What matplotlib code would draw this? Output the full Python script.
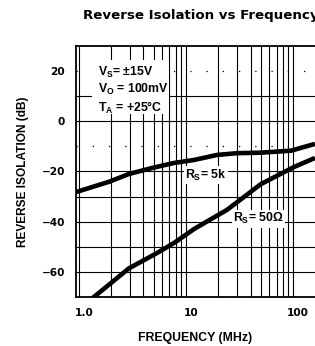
import numpy as np
import matplotlib
matplotlib.use('Agg')
import matplotlib.pyplot as plt
from matplotlib.patches import Rectangle
from matplotlib.transforms import ScaledTranslation

plt.rcParams['font.family'] = ['Liberation Sans', 'DejaVu Sans']
plt.rcParams['font.weight'] = 'bold'
plt.rcParams['mathtext.fontset'] = 'custom'
plt.rcParams['mathtext.rm'] = 'Liberation Sans:bold'
plt.rcParams['mathtext.it'] = 'Liberation Sans:bold'
plt.rcParams['mathtext.bf'] = 'Liberation Sans:bold'

# Reverse isolation curves
freq_5k = [0.94, 1.91, 2.93, 4.82, 7.72, 11.9, 19.5, 30, 50, 95.6, 160]
iso_5k = [-28.2, -24.1, -21.0, -18.6, -16.6, -15.4, -13.4, -12.7, -12.5, -11.7, -9.0]

freq_50 = [1.30, 1.38, 2.93, 5.35, 7.72, 11.9, 24.1, 50.1, 101.9, 160]
iso_50 = [-72.0, -70.0, -58.6, -52.5, -48.5, -42.9, -35.3, -25.0, -18.2, -14.6]

x_ticks = [1, 10, 100]
x_ticklabels = ['1.0', '10', '100']
y_ticks = [20, 0, -20, -40, -60]

fig = plt.figure(figsize=(3.15, 3.46), dpi=100)
ax = fig.add_axes([76/315, 49/346, 1 - 76/315, 251/346])
ax.set_xscale('log')
ax.set_xlim(0.94, 160)
ax.set_ylim(-70, 30)

# grid
for d in [1, 10, 100]:
    for m in range(1, 10):
        f = d * m
        if 0.94 < f < 160:
            ax.axvline(f, color='black', lw=0.8, zorder=1)
for y in range(-60, 30, 10):
    if y in (20, -10):
        ax.axhline(y, color='black', lw=0.9, ls=(0, (1, 12)), zorder=1)
    else:
        ax.axhline(y, color='black', lw=0.8, zorder=1)

# white box behind conditions
ax.add_patch(Rectangle((1.33, 3.0), 5.6, 21.5, facecolor='white',
                       edgecolor='none', zorder=2))

ax.plot(freq_5k, iso_5k, color='black', lw=3.3, zorder=3,
        solid_capstyle='butt')
ax.plot(freq_50, iso_50, color='black', lw=3.3, zorder=3,
        solid_capstyle='butt')

ax.text(1.5, 19.6, r'V$_\mathrm{S}$= ±15V', fontsize=8.8, va='center', zorder=4)
ax.text(1.5, 12.5, r'V$_\mathrm{O}$ = 100mV', fontsize=8.8, va='center', zorder=4)
ax.text(1.5, 5.3, r'T$_\mathrm{A}$ = +25°C', fontsize=8.8, va='center', zorder=4)

ax.text(9.8, -21.4, r'R$_\mathrm{S}$= 5k', fontsize=8.8, va='center', zorder=4,
        bbox=dict(facecolor='white', edgecolor='none', pad=1))
ax.text(27.4, -38.9, r'R$_\mathrm{S}$= 50Ω', fontsize=8.8, va='center', zorder=4,
        bbox=dict(facecolor='white', edgecolor='none', pad=1))

ax.set_xticks(x_ticks)
ax.set_xticklabels(x_ticklabels)
ax.set_xticks([], minor=True)
ax.set_yticks(y_ticks)
ax.tick_params(length=0, labelsize=7.6, pad=8)
shift = ScaledTranslation(5/100, 0, fig.dpi_scale_trans)
for lab in ax.get_xticklabels():
    lab.set_transform(lab.get_transform() + shift)
for lab in ax.get_xticklabels() + ax.get_yticklabels():
    lab.set_fontweight('bold')
    lab.set_fontfamily('DejaVu Sans')

for side in ['left', 'top', 'bottom']:
    ax.spines[side].set_linewidth(1.3)
ax.spines['right'].set_visible(False)

ax.set_xlabel('FREQUENCY (MHz)', fontsize=8.8, fontweight='bold', labelpad=10)
ax.set_ylabel('REVERSE ISOLATION (dB)', fontsize=8.6, fontweight='bold', labelpad=9)

fig.text(83/315, 1 - 19.5/346, 'Reverse Isolation vs Frequency', fontsize=9.6,
         fontweight='bold', fontfamily='DejaVu Sans', ha='left', va='baseline')

fig.savefig('out.png', dpi=100)
